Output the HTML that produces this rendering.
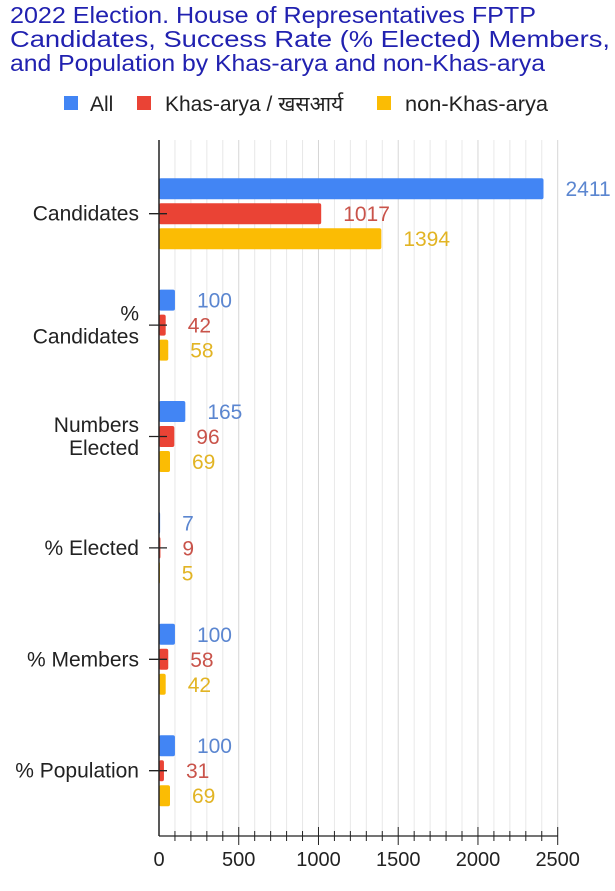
<!DOCTYPE html>
<html><head><meta charset="utf-8"><style>
body{margin:0;background:#fff;}
svg{display:block;font-family:"Liberation Sans","Noto Sans CJK SC",sans-serif;}
</style></head><body>
<svg id="chart" width="615" height="891" viewBox="0 0 615 891">
<g fill="#2121b0" font-size="23">
<text x="10" y="23" textLength="526" lengthAdjust="spacingAndGlyphs">2022 Election. House of Representatives FPTP</text>
<text x="10" y="47" textLength="600" lengthAdjust="spacingAndGlyphs">Candidates, Success Rate (% Elected) Members,</text>
<text x="10" y="71" textLength="535" lengthAdjust="spacingAndGlyphs">and Population by Khas-arya and non-Khas-arya</text>
</g>
<g font-size="21" fill="#222">
<g><rect x="64" y="96" width="14" height="14" fill="#4285f4"/><text x="90" y="111">All</text></g>
<g><rect x="137" y="96" width="14" height="14" fill="#ea4335"/><text x="165" y="111">Khas-arya / खसआर्य</text></g>
<g><rect x="377" y="96" width="14" height="14" fill="#fbbc04"/><text x="405" y="111" textLength="143" lengthAdjust="spacingAndGlyphs">non-Khas-arya</text></g>
</g>
<g id="grid"></g><g id="bars"></g><g id="axes"></g>
</svg>
<script>
const categories=[["Candidates"],["%","Candidates"],["Numbers","Elected"],["% Elected"],["% Members"],["% Population"]];
const allValues=[2411,100,165,7,100,100];
const khasValues=[1017,42,96,9,58,31];
const nonKhasValues=[1394,58,69,5,42,69];
const xTicks=[0,500,1000,1500,2000,2500];
const seriesNames=["all","khas-arya","non-khas-arya"];
const NS="http://www.w3.org/2000/svg";
const x0=159,x1=557.7,maxV=2500,yTop=140,yAxis=836,bandTop=158,band=111.4;
const X=v=>x0+v/maxV*(x1-x0);
const Yc=i=>bandTop+band*(i+0.5);
function mk(tag,attrs,parent,txt){const e=document.createElementNS(NS,tag);for(const k in attrs)e.setAttribute(k,attrs[k]);if(txt!==undefined)e.textContent=txt;parent.appendChild(e);return e;}
const grid=document.getElementById('grid'),bars=document.getElementById('bars'),axes=document.getElementById('axes');
for(let v=100;v<=maxV;v+=100){
 const g=mk('line',{x1:X(v),x2:X(v),y1:yTop,y2:yAxis,stroke:v%500===0?'#d6d6d6':'#e8e8e8','stroke-width':1},grid);
 
 
 const t=mk('line',{x1:X(v),x2:X(v),y1:yAxis-(v%500===0?9:5),y2:yAxis+(v%500===0?9:5),stroke:'#222','stroke-width':1},axes);
 
 
}
const series=[allValues,khasValues,nonKhasValues];
const colors=["#4285f4","#ea4335","#fbbc04"];
const labelColors=["#5b86d0","#c9534a","#e2b424"];
categories.forEach((lines,i)=>{
 const c=Yc(i);
 series.forEach((vals,s)=>{
  const y=c-10.5+(s-1)*25;
  const w=Math.max(X(vals[i])-x0,1);
  const r=mk('rect',{x:x0,y:y,width:w,height:21,rx:2,fill:colors[s]},bars);
  
  
  const t=mk('text',{x:X(vals[i])+22,y:y+18,'font-size':21,fill:labelColors[s]},bars,String(vals[i]));
  
  
 });
 const tk=mk('line',{x1:149,x2:167,y1:c,y2:c,stroke:'#222','stroke-width':1.3},axes);
 
 
 lines.forEach((ln,j)=>{
  const yy=c+7+(j-(lines.length-1)/2)*23;
  const t=mk('text',{x:139,y:yy,'text-anchor':'end','font-size':21,fill:'#222'},axes,ln);
  
  
 });
});
const ya=mk('line',{x1:x0,x2:x0,y1:yTop,y2:yAxis,stroke:'#222','stroke-width':1.5},axes);


const xa=mk('line',{x1:x0,x2:x1,y1:yAxis,y2:yAxis,stroke:'#222','stroke-width':1.3},axes);


xTicks.forEach(v=>{
 const t=mk('text',{x:X(v),y:866,'text-anchor':'middle','font-size':20,fill:'#222'},axes,String(v));
 
 
});
</script>
</body></html>
